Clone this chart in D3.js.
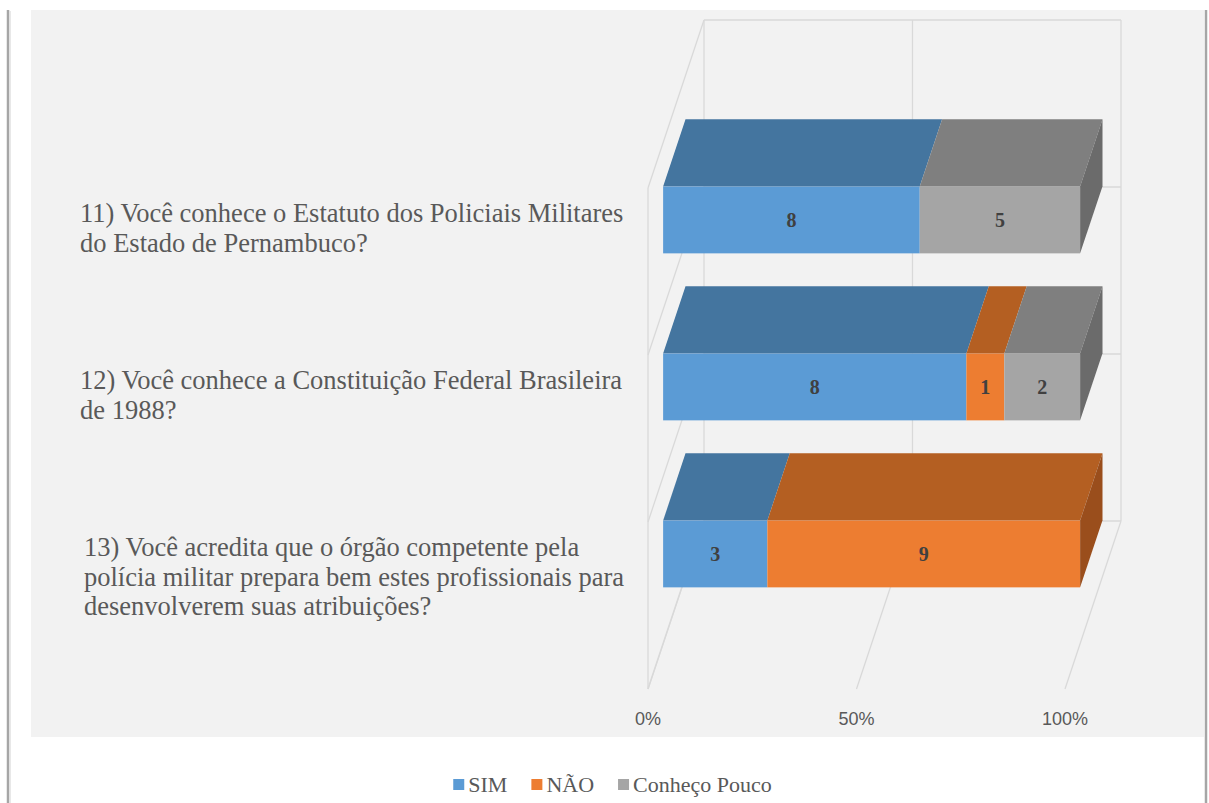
<!DOCTYPE html>
<html>
<head>
<meta charset="utf-8">
<script src="https://cdn.jsdelivr.net/npm/d3@7"></script>
<style>
  body { margin: 0; background: #fff; }
  svg { display: block; }
</style>
</head>
<body>
<script>
// data
var categories = ["q11", "q12", "q13"]
var categoryLines = [
  ["11) Você conhece o Estatuto dos Policiais Militares", "do Estado de Pernambuco?"],
  ["12) Você conhece a Constituição Federal Brasileira", "de 1988?"],
  ["13) Você acredita que o órgão competente pela", "polícia militar prepara bem estes profissionais para", "desenvolverem suas atribuições?"]
]
var seriesNames = ["SIM", "NÃO", "Conheço Pouco"]
var sim = [8, 8, 3]
var nao = [0, 1, 9]
var pouco = [5, 2, 0]
var tickValues = [0, 0.5, 1]
var tickLabels = ["0%", "50%", "100%"]

var frontColors = ["#5b9bd5", "#ed7d31", "#a5a5a5"]
var topColors = ["#44759f", "#b45f22", "#7f7f7f"]
var sideColors = ["#386289", "#9a4e1c", "#6b6b6b"]

var width = 1209, height = 803

var svg = d3.select("body").append("svg")
    .attr("width", width)
    .attr("height", height)

// frame + plot background
svg.append("rect")
    .attr("x", 31).attr("y", 10)
    .attr("width", 1173).attr("height", 727)
    .attr("fill", "#f2f2f2")

svg.append("line").attr("x1", 8).attr("x2", 8).attr("y1", 10).attr("y2", height)
    .attr("stroke", "#a6a6a6").attr("stroke-width", 2.5)
svg.append("line").attr("x1", 10).attr("x2", 10).attr("y1", 11).attr("y2", height)
    .attr("stroke", "#e0e0e0").attr("stroke-width", 1.5)
svg.append("line").attr("x1", 1206).attr("x2", 1206).attr("y1", 10).attr("y2", height)
    .attr("stroke", "#a6a6a6").attr("stroke-width", 2.5)

// 3d projection: back wall scales + depth offset
var x = d3.scaleLinear().domain([0, 1]).range([704, 1121])
var y = d3.scaleBand().domain(categories).range([20, 521])
var depthDx = -56, depthDy = 168
function P(v, yy, d) {
  return [x(v) + depthDx * d, yy + depthDy * d]
}
var line = d3.line()

var grid = svg.append("g")
    .attr("fill", "none")
    .attr("stroke", "#d9d9d9")
    .attr("stroke-width", 1.3)

var bounds = categories.map(function(c){ return y(c) }).concat([y.range()[1]])

// back wall
tickValues.forEach(function(v){
  grid.append("path").attr("d", line([P(v, bounds[0], 0), P(v, bounds[3], 0)]))
})
bounds.forEach(function(b){
  grid.append("path").attr("d", line([P(0, b, 0), P(1, b, 0)]))
})
// side wall
bounds.forEach(function(b){
  grid.append("path").attr("d", line([P(0, b, 0), P(0, b, 1)]))
})
grid.append("path").attr("d", line([P(0, bounds[0], 1), P(0, bounds[3], 1)]))
// floor
tickValues.forEach(function(v){
  grid.append("path").attr("d", line([P(v, bounds[3], 0), P(v, bounds[3], 1)]))
})

// bars
var d0 = 0.33, d1 = 0.73
var barOff = 0.263, barH = 0.40

categories.forEach(function(c, i){
  var vals = [sim[i], nao[i], pouco[i]]
  var total = d3.sum(vals)
  var yt = y(c) + barOff * y.bandwidth()
  var yb = yt + barH * y.bandwidth()
  var g = svg.append("g")
  var acc = 0, last = -1
  vals.forEach(function(v, k){ if (v > 0) last = k })
  vals.forEach(function(v, k){
    if (v <= 0) return
    var a = acc / total, b = (acc + v) / total
    acc += v
    // top face
    g.append("path")
        .attr("d", line([P(a, yt, d1), P(a, yt, d0), P(b, yt, d0), P(b, yt, d1)]) + "Z")
        .attr("fill", topColors[k])
    // front face
    var f0 = P(a, yt, d1), f1 = P(b, yb, d1)
    g.append("rect")
        .attr("x", f0[0]).attr("y", f0[1])
        .attr("width", f1[0] - f0[0]).attr("height", f1[1] - f0[1])
        .attr("fill", frontColors[k])
    if (k === last) {
      g.append("path")
          .attr("d", line([P(b, yt, d1), P(b, yt, d0), P(b, yb, d0), P(b, yb, d1)]) + "Z")
          .attr("fill", sideColors[k])
    }
    g.append("text")
        .attr("x", (f0[0] + f1[0]) / 2)
        .attr("y", (f0[1] + f1[1]) / 2 + 7)
        .attr("text-anchor", "middle")
        .attr("font-family", "'Liberation Serif', 'Times New Roman', serif")
        .attr("font-weight", "bold")
        .attr("font-size", 20)
        .attr("fill", "#404040")
        .text(v)
  })
})

// category labels
categories.forEach(function(c, i){
  var t = svg.append("text")
      .attr("font-family", "'Liberation Serif', 'Times New Roman', serif")
      .attr("font-size", 26.5)
      .attr("fill", "#595959")
  categoryLines[i].forEach(function(s, j){
    t.append("tspan")
        .attr("x", i === 2 ? 84 : 80)
        .attr("y", y(c) + 202 + j * 29.5)
        .text(s)
  })
})

// value axis labels (front edge of floor)
svg.selectAll(".tick-label")
    .data(tickValues)
    .enter()
    .append("text")
    .attr("class", "tick-label")
    .attr("x", function(v){ return P(v, bounds[3], 1)[0] })
    .attr("y", 725)
    .attr("text-anchor", "middle")
    .attr("font-family", "'Liberation Sans', Arial, sans-serif")
    .attr("font-size", 18)
    .attr("fill", "#595959")
    .text(function(v, i){ return tickLabels[i] })

// legend
var legend = svg.append("g")
var lx = 0
seriesNames.forEach(function(s, k){
  var item = legend.append("g").attr("transform", "translate(" + lx + ",0)")
  item.append("rect")
      .attr("x", 0).attr("y", -6)
      .attr("width", 11).attr("height", 11)
      .attr("fill", frontColors[k])
  var t = item.append("text")
      .attr("x", 15).attr("y", 7)
      .attr("font-family", "'Liberation Serif', 'Times New Roman', serif")
      .attr("font-size", 22)
      .attr("fill", "#595959")
      .text(s)
  lx += 15 + t.node().getComputedTextLength() + 24
})
var legendW = lx - 24
legend.attr("transform", "translate(" + (612.5 - legendW / 2) + ",785)")
</script>
</body>
</html>
